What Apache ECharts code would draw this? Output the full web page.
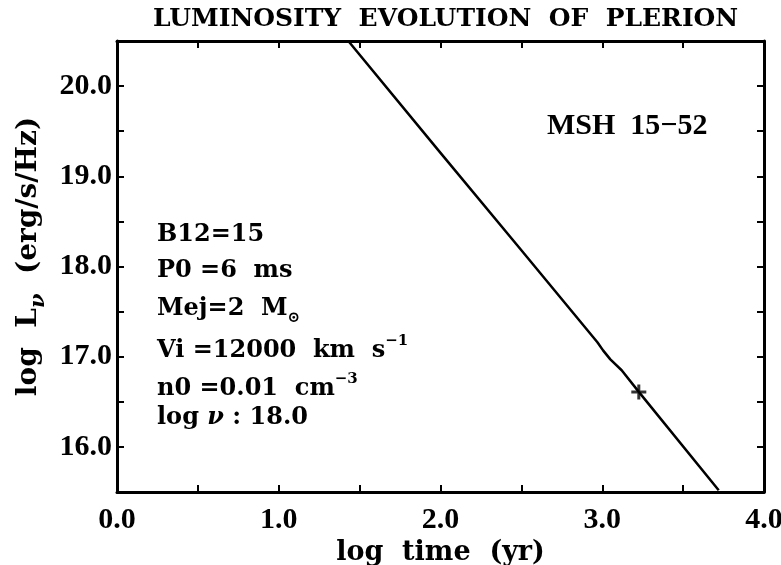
<!DOCTYPE html>
<html>
<head>
<meta charset="utf-8">
<script src="https://cdn.jsdelivr.net/npm/echarts@6/dist/echarts.min.js"></script>
<style>html,body{margin:0;padding:0;background:#fff}#c{width:781px;height:565px}</style>
</head>
<body>
<div id="c"></div>
<script>
// ---- data ----
var logTime = [1.43, 2.00, 2.50, 2.97, 3.005, 3.05, 3.12, 3.226, 3.72];
var logLum  = [20.50, 19.26, 18.18, 17.16, 17.07, 16.97, 16.85, 16.61, 15.52];
var markerTime = [3.226];
var markerLum = [16.61];
var xTickLabels = ['0.0', '1.0', '2.0', '3.0', '4.0'];
var yTickLabels = ['16.0', '17.0', '18.0', '19.0', '20.0'];
var paramLines = [
  '{t|B12=15}',
  '{t|P0 =6  ms}',
  '{t|Mej=2  M}{sub|\u2299}',
  '{t|Vi =12000  km  s}{sup|\u22121}',
  '{t|n0 =0.01  cm}{sup|\u22123}',
  '{t|log }{nu|\u03bd}{t| : 18.0}'
];
var objectName = 'MSH  15\u221252';
var chartTitle = 'LUMINOSITY  EVOLUTION  OF  PLERION';

var serif = '"DejaVu Serif", serif';
var numFont = '"Liberation Serif", serif';

var lineData = logTime.map(function (t, i) { return [t, logLum[i]]; });
var markerData = markerTime.map(function (t, i) { return [t, markerLum[i]]; });

function xFmt(v) {
  var s = v.toFixed(1);
  return xTickLabels.indexOf(s) >= 0 ? s : '';
}
function yFmt(v) {
  var s = v.toFixed(1);
  return yTickLabels.indexOf(s) >= 0 ? s : '';
}

function axisLine() { return { show: true, onZero: false, lineStyle: { color: '#000', width: 3 } }; }
function tick() { return { show: true, inside: true, length: 7, lineStyle: { color: '#000', width: 2 } }; }
function numLabel(fmt, margin) {
  return { formatter: fmt, margin: margin, color: '#000', fontFamily: numFont, fontWeight: 'bold', fontSize: 30 };
}

var paramY = [240, 276, 314, 351, 389, 423];
var richParam = {
  t: { fontFamily: serif, fontWeight: 'bold', fontSize: 24, fill: '#000', color: '#000', lineHeight: 34, verticalAlign: 'middle' },
  sub: { fontFamily: serif, fontWeight: 'bold', fontSize: 15, fill: '#000', color: '#000', lineHeight: 34, verticalAlign: 'bottom' },
  sup: { fontFamily: serif, fontWeight: 'bold', fontSize: 15, fill: '#000', color: '#000', lineHeight: 34, verticalAlign: 'top' },
  nu: { fontFamily: serif, fontStyle: 'italic', fontWeight: 'bold', fontSize: 24, fill: '#000', color: '#000', lineHeight: 34, verticalAlign: 'middle' }
};

var graphics = paramLines.map(function (txt, i) {
  return {
    type: 'text', left: 157, top: paramY[i] - 17,
    style: { text: txt, rich: richParam, fill: '#000' }
  };
});
graphics.push({
  type: 'text', left: 547, top: 111,
  style: { text: objectName, fill: '#000', font: 'bold 30px "Liberation Serif", serif' }
});

var chart = echarts.init(document.getElementById('c'), null, { renderer: 'canvas' });
chart.setOption({
  backgroundColor: '#fff',
  animation: false,
  title: {
    text: chartTitle, left: 153, top: 7, padding: 0,
    textStyle: { fontFamily: serif, fontWeight: 'bold', fontSize: 25, color: '#000' }
  },
  grid: { left: 117, right: 17, top: 41, bottom: 73, containLabel: false, outerBoundsMode: 'none' },
  xAxis: [{
    type: 'value', min: 0, max: 4, interval: 0.5, position: 'bottom',
    name: 'log  time  (yr)', nameLocation: 'middle', nameGap: 29,
    nameTextStyle: { fontFamily: serif, fontWeight: 'bold', fontSize: 27, color: '#000' },
    axisLine: axisLine(), axisTick: tick(),
    axisLabel: numLabel(xFmt, 13),
    splitLine: { show: false }
  }, {
    type: 'value', min: 0, max: 4, interval: 0.5, position: 'top',
    axisLine: axisLine(), axisTick: tick(),
    axisLabel: { show: false }, splitLine: { show: false }
  }],
  yAxis: [{
    type: 'value', min: 15.5, max: 20.5, interval: 0.5, position: 'left',
    name: '{a|log  L}{s|\u03bd}{a|  (erg/s/Hz)}', nameLocation: 'middle', nameGap: 66,
    nameTextStyle: {
      color: '#000', padding: [0, 0, 0, 20],
      rich: {
        a: { fontFamily: serif, fontWeight: 'bold', fontSize: 28, color: '#000', lineHeight: 40, verticalAlign: 'middle' },
        s: { fontFamily: serif, fontStyle: 'italic', fontWeight: 'bold', fontSize: 21, color: '#000', lineHeight: 40, verticalAlign: 'bottom' }
      }
    },
    axisLine: axisLine(), axisTick: tick(),
    axisLabel: numLabel(yFmt, 5),
    splitLine: { show: false }
  }, {
    type: 'value', min: 15.5, max: 20.5, interval: 0.5, position: 'right',
    axisLine: axisLine(), axisTick: tick(),
    axisLabel: { show: false }, splitLine: { show: false }
  }],
  series: [{
    type: 'line', data: lineData, xAxisIndex: 0, yAxisIndex: 0,
    showSymbol: false, symbol: 'none', clip: true,
    lineStyle: { color: '#000', width: 2.5 }
  }, {
    type: 'scatter', data: markerData, xAxisIndex: 0, yAxisIndex: 0,
    symbol: 'path://M4,0H6V4H10V6H6V10H4V6H0V4H4Z', symbolSize: 15,
    itemStyle: { color: '#000' }
  }],
  graphic: graphics
});
</script>
</body>
</html>
